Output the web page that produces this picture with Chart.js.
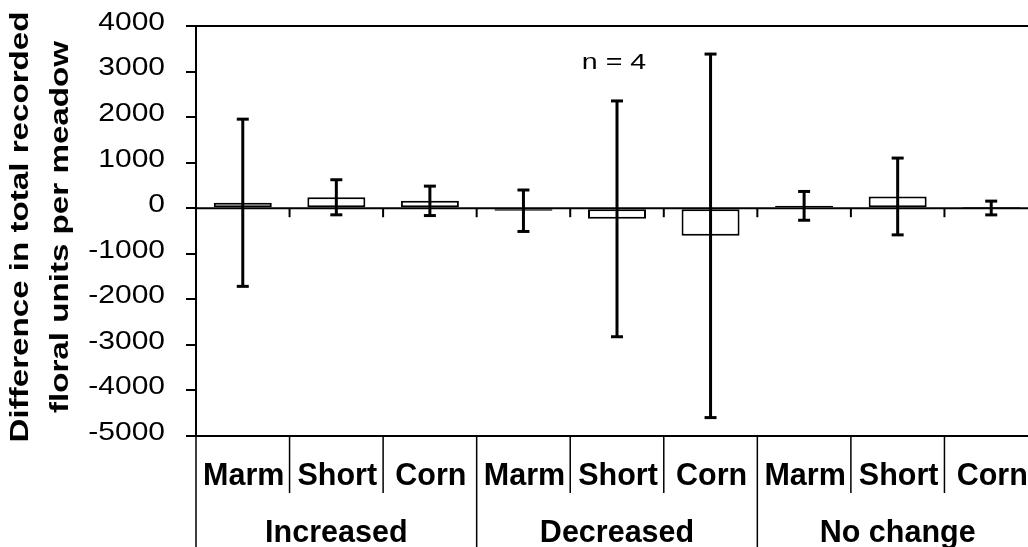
<!DOCTYPE html>
<html><head><meta charset="utf-8">
<script src="https://cdn.jsdelivr.net/npm/chart.js@4.4.1/dist/chart.umd.min.js"></script>
<style>
html,body{margin:0;padding:0;overflow:hidden;background:#fff;width:1028px;height:547px}
#wrap{position:relative;width:1044px;height:547px}
canvas{display:block}
</style></head><body>
<div id="wrap"><canvas id="c" width="1044" height="547"></canvas></div>
<script>
// ---- data ----
const categories = ['Marm','Short','Corn','Marm','Short','Corn','Marm','Short','Corn'];
const groups = ['Increased','Decreased','No change'];
const means  = [120, 240, 162, -55, -233, -606, 52, 258, 5];
const errors = [1835, 385, 323, 455, 2588, 3990, 316, 843, 151];
const yTicks = [4000, 3000, 2000, 1000, 0, -1000, -2000, -3000, -4000, -5000];
const yTitle = ['Difference in total recorded', 'floral units per meadow'];
const note = 'n = 4';

const FONT = '"Liberation Sans", Arial, Helvetica, sans-serif';

function seg(ctx, x1, y1, x2, y2){ ctx.beginPath(); ctx.moveTo(x1,y1); ctx.lineTo(x2,y2); ctx.stroke(); }

const decor = {
  id: 'decor',
  beforeDatasetsDraw(chart){
    const {ctx, chartArea:a, scales:{x, y}} = chart;
    ctx.save();
    ctx.strokeStyle = '#000';
    ctx.lineWidth = 2;
    seg(ctx, a.left, a.top, a.right, a.top);
    seg(ctx, a.left, a.bottom, a.right, a.bottom);
    const y0 = y.getPixelForValue(0);
    seg(ctx, a.left, y0, a.right, y0);
    const half = (x.getPixelForValue(1) - x.getPixelForValue(0)) / 2;
    for (let i = 0; i < categories.length; i++) {
      const bx = x.getPixelForValue(i) + half;
      seg(ctx, bx, y0, bx, y0 + 9);
    }
    ctx.restore();
  },
  afterDatasetsDraw(chart){
    const {ctx, scales:{x, y}} = chart;
    ctx.save();
    ctx.strokeStyle = '#000';
    ctx.lineWidth = 3;
    means.forEach((m, i) => {
      const cx = x.getPixelForValue(i);
      const yt = y.getPixelForValue(m + errors[i]);
      const yb = y.getPixelForValue(m - errors[i]);
      seg(ctx, cx, yt, cx, yb);
      seg(ctx, cx - 6, yt, cx + 6, yt);
      seg(ctx, cx - 6, yb, cx + 6, yb);
    });
    ctx.restore();
  },
  afterDraw(chart){
    const {ctx, chartArea:a, scales:{x, y}} = chart;
    const half = (x.getPixelForValue(1) - x.getPixelForValue(0)) / 2;
    ctx.save();
    // x label table
    ctx.strokeStyle = '#000';
    ctx.lineWidth = 1.5;
    for (let k = 0; k <= categories.length; k++) {
      const bx = x.getPixelForValue(0) - half + k * 2 * half;
      const bottom = (k % 3 === 0) ? chart.height : a.bottom + 57;
      seg(ctx, bx, a.bottom, bx, bottom);
    }
    ctx.fillStyle = '#000';
    ctx.textAlign = 'center';
    ctx.textBaseline = 'alphabetic';
    ctx.font = 'bold 30.5px ' + FONT;
    categories.forEach((c, i) => ctx.fillText(c, x.getPixelForValue(i) + 1, a.bottom + 49));
    groups.forEach((g, gi) => ctx.fillText(g, x.getPixelForValue(gi * 3 + 1), a.bottom + 106));
    // y tick labels (from the scale's ticks)
    ctx.font = '25px ' + FONT;
    ctx.textAlign = 'right';
    ctx.textBaseline = 'middle';
    y.ticks.forEach(t => {
      ctx.save();
      ctx.translate(a.left - 31, y.getPixelForValue(t.value) - 3);
      ctx.scale(1.2, 1);
      ctx.fillText(String(t.value), 0, 0);
      ctx.restore();
    });
    // y title
    ctx.textAlign = 'center';
    ctx.textBaseline = 'alphabetic';
    ctx.font = 'bold 25.5px ' + FONT;
    const cy = (a.top + a.bottom) / 2 - 4;
    [[28, yTitle[0]], [68, yTitle[1]]].forEach(([bx, t]) => {
      ctx.save();
      ctx.translate(bx, cy);
      ctx.rotate(-Math.PI / 2);
      ctx.scale(1.3, 1);
      ctx.fillText(t, 0, 0);
      ctx.restore();
    });
    // note
    ctx.font = '22.5px ' + FONT;
    ctx.save();
    ctx.translate(x.getPixelForValue(4) - 3, y.getPixelForValue(3050));
    ctx.scale(1.27, 1);
    ctx.fillText(note, 0, 0);
    ctx.restore();
    ctx.restore();
  }
};

new Chart(document.getElementById('c'), {
  type: 'bar',
  data: {
    labels: categories,
    datasets: [{
      data: means,
      backgroundColor: '#fff',
      borderColor: '#000',
      borderWidth: 2,
      borderSkipped: false,
      barPercentage: 0.62,
      categoryPercentage: 1
    }]
  },
  options: {
    responsive: false,
    devicePixelRatio: 1,
    animation: false,
    layout: { padding: { top: 26, bottom: 111, left: 0, right: 6 } },
    plugins: { legend: { display: false }, tooltip: { enabled: false } },
    scales: {
      x: { display: false },
      y: {
        min: -5000, max: 4000,
        afterBuildTicks(scale){ scale.ticks = yTicks.map(v => ({ value: v })); },
        afterFit(scale){ scale.width = 196; scale.paddingTop = 0; scale.paddingBottom = 0; },
        ticks: { display: false },
        grid: { drawOnChartArea: false, drawTicks: true, tickLength: 10, color: '#000', lineWidth: 2 },
        border: { display: true, color: '#000', width: 2 }
      }
    }
  },
  plugins: [decor]
});
</script>
</body></html>
